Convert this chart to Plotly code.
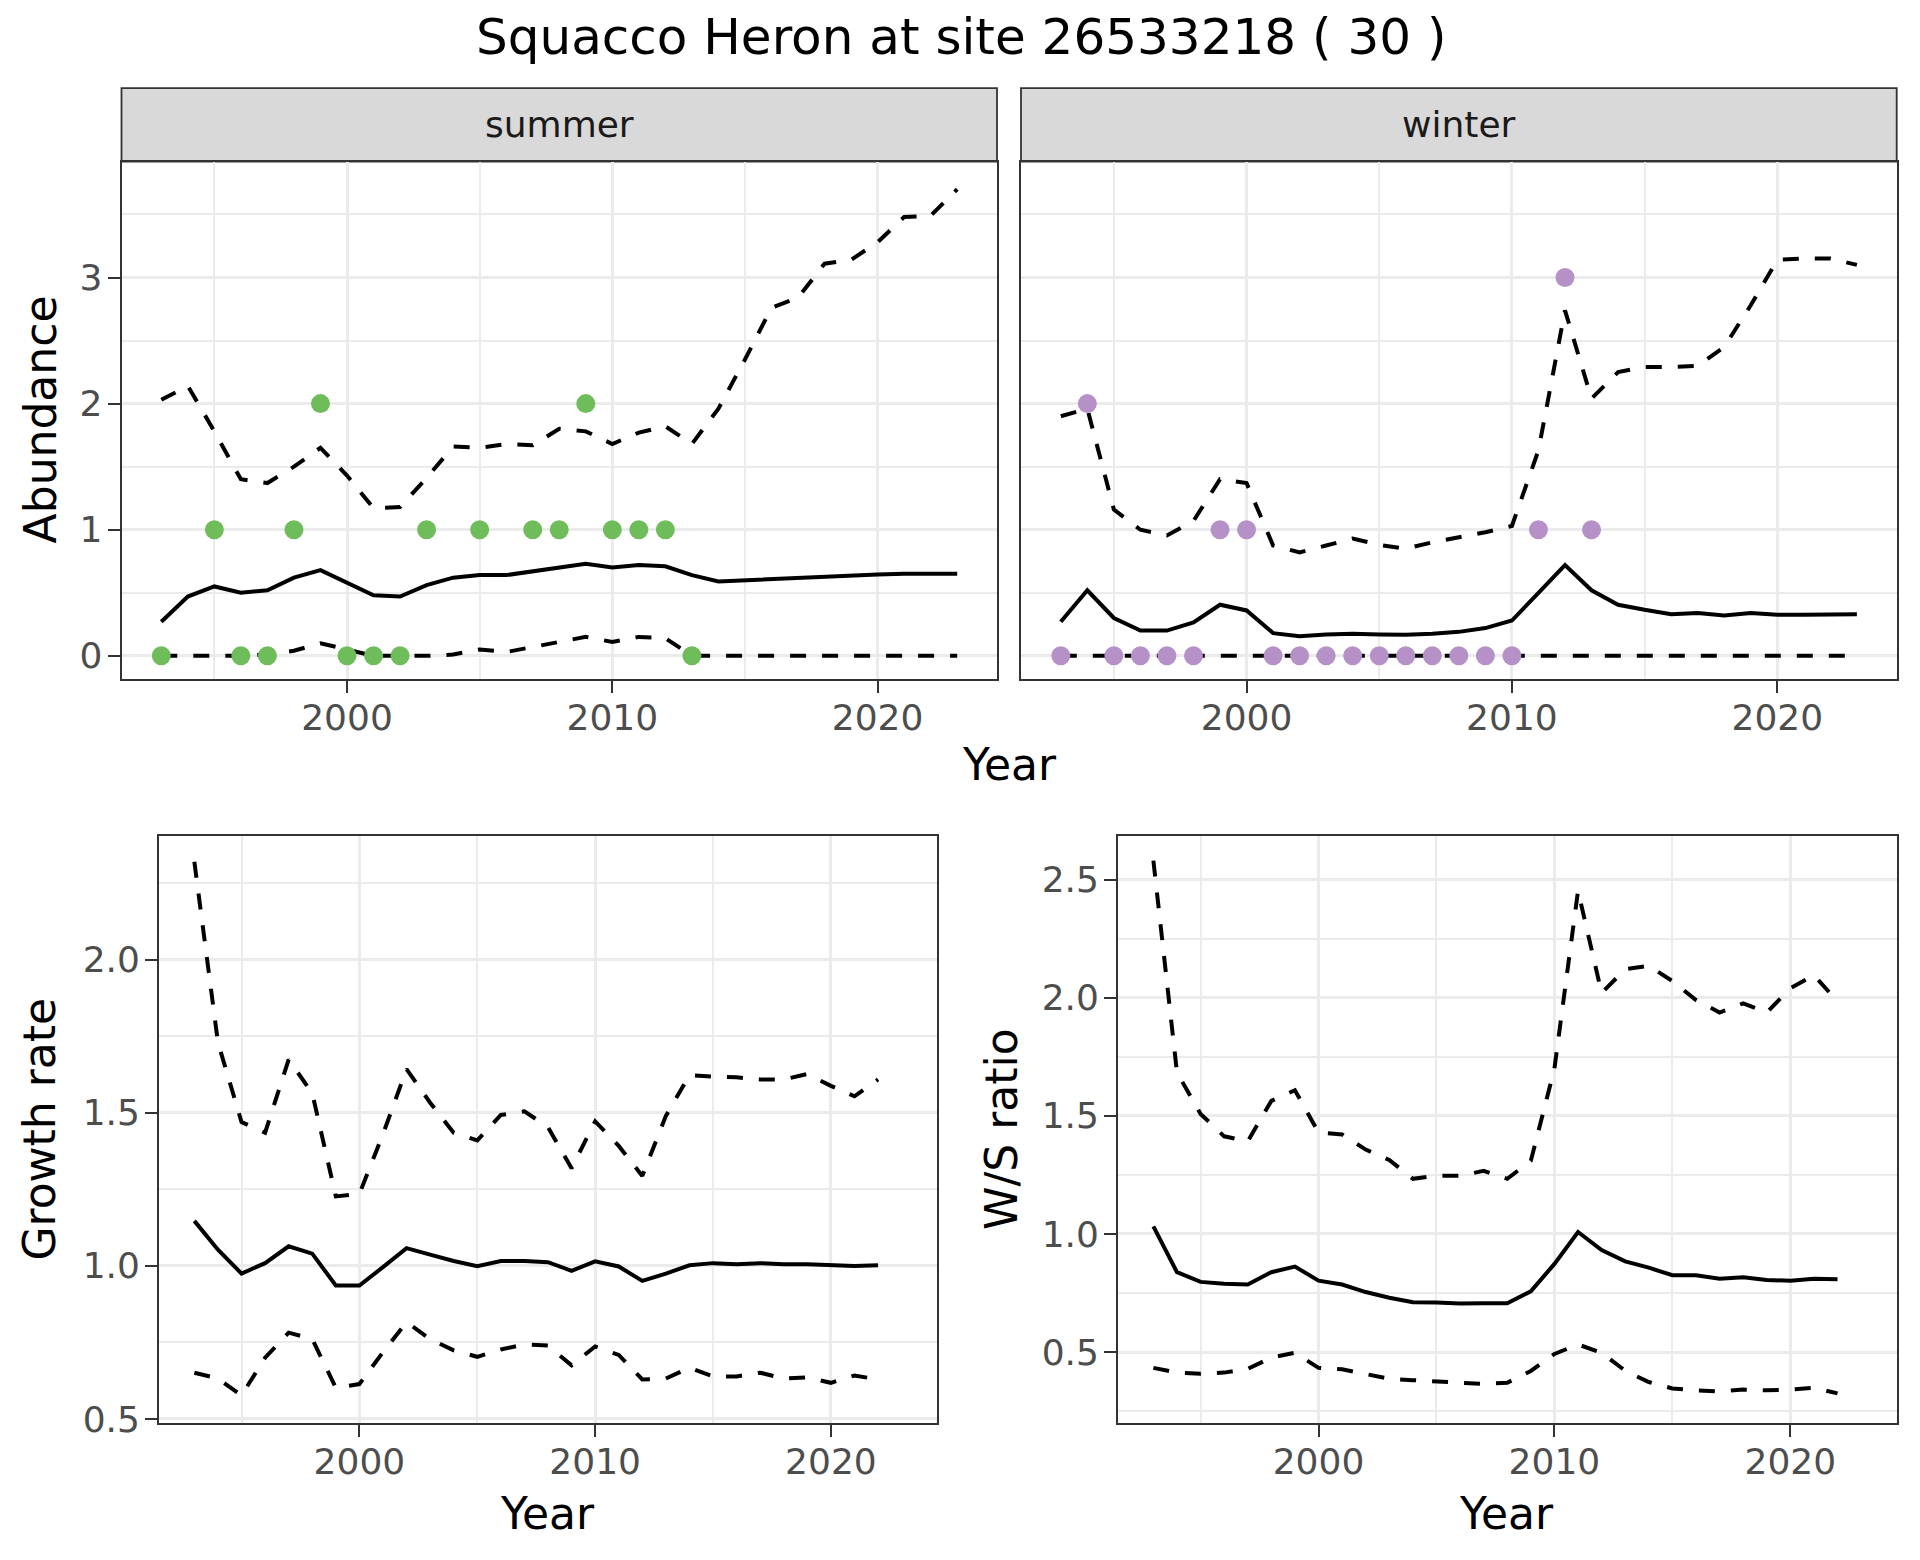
import plotly.graph_objects as go

years = list(range(1993, 2024))
years_ratio = list(range(1993, 2023))

summer_obs_years = [1993, 1995, 1996, 1997, 1998, 1999, 2000, 2001, 2002, 2003,
                    2005, 2007, 2008, 2009, 2010, 2011, 2012, 2013]
summer_obs = [0, 1, 0, 0, 1, 2, 0, 0, 0, 1, 1, 1, 1, 2, 1, 1, 1, 0]

winter_obs_years = list(range(1993, 2014))
winter_obs = [0, 2, 0, 0, 0, 0, 1, 1, 0, 0, 0, 0, 0, 0, 0, 0, 0, 0, 1, 3, 1]

summer_mean = [0.27, 0.47, 0.55, 0.50, 0.52, 0.62, 0.68, 0.58, 0.48, 0.47, 0.56,
               0.62, 0.64, 0.64, 0.67, 0.70, 0.73, 0.70, 0.72, 0.71, 0.64, 0.59,
               0.60, 0.61, 0.62, 0.63, 0.64, 0.645, 0.65, 0.65, 0.65]
summer_upper = [2.03, 2.14, 1.78, 1.40, 1.37, 1.50, 1.65, 1.43, 1.17, 1.18, 1.41,
                1.66, 1.65, 1.68, 1.67, 1.80, 1.78, 1.68, 1.77, 1.82, 1.68, 1.96,
                2.35, 2.76, 2.84, 3.11, 3.14, 3.28, 3.48, 3.49, 3.70]
summer_lower = [0, 0, 0, 0, 0.01, 0.04, 0.10, 0.05, 0, 0, 0, 0.01, 0.05, 0.03,
                0.07, 0.11, 0.15, 0.11, 0.15, 0.14, 0, 0, 0, 0, 0, 0, 0, 0, 0, 0, 0]

winter_mean = [0.27, 0.52, 0.30, 0.20, 0.20, 0.265, 0.405, 0.36, 0.18, 0.155, 0.17,
               0.175, 0.17, 0.167, 0.175, 0.19, 0.22, 0.28, 0.50, 0.72, 0.52, 0.405,
               0.365, 0.33, 0.34, 0.32, 0.34, 0.325, 0.325, 0.33, 0.33]
winter_upper = [1.90, 1.96, 1.16, 1.00, 0.955, 1.07, 1.40, 1.37, 0.875, 0.82, 0.875,
                0.93, 0.88, 0.85, 0.90, 0.94, 0.98, 1.03, 1.63, 2.74, 2.04, 2.25,
                2.29, 2.29, 2.30, 2.45, 2.78, 3.14, 3.15, 3.15, 3.10]
winter_lower = [0] * 31

growth_mean = [1.147, 1.053, 0.975, 1.009, 1.064, 1.04, 0.936, 0.936, 0.996, 1.058,
               1.037, 1.016, 0.999, 1.016, 1.016, 1.012, 0.984, 1.015, 0.998, 0.951,
               0.975, 1.002, 1.009, 1.005, 1.009, 1.005, 1.005, 1.002, 1.0, 1.002]
growth_upper = [2.32, 1.73, 1.47, 1.435, 1.674, 1.564, 1.227, 1.235, 1.43, 1.643,
                1.533, 1.435, 1.41, 1.493, 1.505, 1.453, 1.319, 1.472, 1.392, 1.294,
                1.49, 1.623, 1.618, 1.616, 1.609, 1.609, 1.627, 1.588, 1.554, 1.609]
growth_lower = [0.651, 0.632, 0.577, 0.70, 0.782, 0.761, 0.602, 0.614, 0.718, 0.816,
                0.761, 0.724, 0.703, 0.727, 0.743, 0.74, 0.675, 0.737, 0.709, 0.629,
                0.632, 0.667, 0.639, 0.639, 0.651, 0.632, 0.636, 0.618, 0.642, 0.629]

ws_mean = [1.032, 0.838, 0.797, 0.789, 0.786, 0.838, 0.862, 0.802, 0.786, 0.754,
           0.73, 0.711, 0.71, 0.705, 0.706, 0.706, 0.757, 0.873, 1.008, 0.932,
           0.884, 0.857, 0.825, 0.825, 0.81, 0.817, 0.805, 0.802, 0.81, 0.808]
ws_upper = [2.58, 1.683, 1.508, 1.413, 1.392, 1.563, 1.608, 1.429, 1.421, 1.357,
            1.313, 1.233, 1.246, 1.246, 1.267, 1.233, 1.31, 1.70, 2.452, 2.02,
            2.12, 2.135, 2.07, 1.99, 1.937, 1.976, 1.937, 2.04, 2.095, 1.984]
ws_lower = [0.433, 0.413, 0.408, 0.413, 0.429, 0.476, 0.497, 0.433, 0.427, 0.405,
            0.387, 0.381, 0.376, 0.37, 0.365, 0.37, 0.42, 0.492, 0.532, 0.497,
            0.421, 0.373, 0.346, 0.338, 0.333, 0.341, 0.338, 0.341, 0.349, 0.325]

x_ticks = [2000, 2010, 2020]
x_minor = [1995, 2005, 2015]

W, H = 1920, 1560
FONT = "DejaVu Sans"
GRID = "#EBEBEB"
BORDER = "#333333"
TICKC = "#4D4D4D"
LW = 4
DASH = "16px,16px"
GREEN = "#6FBC5B"
PURPLE = "#B591C7"
TICK_SIZE = 36
TITLE_SIZE = 44

fig = go.Figure()


def add_lines(x, mean, upper, lower, xa, ya):
    for vals, dash in ((upper, DASH), (mean, "solid"), (lower, DASH)):
        fig.add_trace(go.Scatter(x=x, y=vals, mode="lines", xaxis=xa, yaxis=ya,
                                 line=dict(color="black", width=LW, dash=dash),
                                 showlegend=False, hoverinfo="skip"))


add_lines(years, summer_mean, summer_upper, summer_lower, "x", "y")
fig.add_trace(go.Scatter(x=summer_obs_years, y=summer_obs, mode="markers",
                         xaxis="x", yaxis="y", showlegend=False,
                         marker=dict(color=GREEN, size=19, line=dict(width=0))))
add_lines(years, winter_mean, winter_upper, winter_lower, "x2", "y2")
fig.add_trace(go.Scatter(x=winter_obs_years, y=winter_obs, mode="markers",
                         xaxis="x2", yaxis="y2", showlegend=False,
                         marker=dict(color=PURPLE, size=19, line=dict(width=0))))
add_lines(years_ratio, growth_mean, growth_upper, growth_lower, "x3", "y3")
add_lines(years_ratio, ws_mean, ws_upper, ws_lower, "x4", "y4")


def xax(domain, anchor):
    return dict(domain=domain, anchor=anchor, range=[1991.5, 2024.5],
                tickmode="array", tickvals=x_ticks, ticktext=[str(v) for v in x_ticks],
                showgrid=True, gridcolor=GRID, gridwidth=3, zeroline=False,
                minor=dict(tickmode="array", tickvals=x_minor, showgrid=True,
                           gridcolor=GRID, gridwidth=1.5, ticks=""),
                showline=True, mirror=True, linecolor=BORDER, linewidth=1.8,
                ticks="outside", ticklen=12, tickwidth=1.8, tickcolor=BORDER,
                ticklabelstandoff=-6,
                tickfont=dict(family=FONT, size=TICK_SIZE, color=TICKC))


def yax(domain, anchor, rng, major, minor, fmt, labels=True):
    return dict(domain=domain, anchor=anchor, range=rng,
                tickmode="array", tickvals=major, ticktext=[fmt % v for v in major],
                showgrid=True, gridcolor=GRID, gridwidth=3, zeroline=False,
                minor=dict(tickmode="array", tickvals=minor, showgrid=True,
                           gridcolor=GRID, gridwidth=1.5, ticks=""),
                showline=True, mirror=True, linecolor=BORDER, linewidth=1.8,
                ticks="outside" if labels else "", ticklen=12, tickwidth=1.8,
                tickcolor=BORDER, showticklabels=labels, ticklabelstandoff=-2,
                tickfont=dict(family=FONT, size=TICK_SIZE, color=TICKC))


def px_x(p):
    return p / W


def px_y(p):
    return 1 - p / H


STRIP_TOP, TOP_Y0, TOP_Y1 = 89, 163.3, 686.5
BOT_Y0, BOT_Y1 = 845, 1438.6
top_dom = [px_y(TOP_Y1), px_y(TOP_Y0)]
bot_dom = [px_y(BOT_Y1), px_y(BOT_Y0)]

fig.update_layout(
    width=W, height=H,
    margin=dict(l=0, r=0, t=0, b=0),
    paper_bgcolor="white", plot_bgcolor="white",
    font=dict(family=FONT, color="black"),
    xaxis=xax([px_x(121.5), px_x(997)], "y"),
    yaxis=yax(top_dom, "x", [-0.184, 3.92], [0, 1, 2, 3], [0.5, 1.5, 2.5, 3.5], "%d"),
    xaxis2=xax([px_x(1021), px_x(1896.7)], "y2"),
    yaxis2=yax(top_dom, "x2", [-0.184, 3.92], [0, 1, 2, 3], [0.5, 1.5, 2.5, 3.5], "%d", labels=False),
    xaxis3=xax([px_x(159), px_x(937)], "y3"),
    yaxis3=yax(bot_dom, "x3", [0.487, 2.405], [0.5, 1.0, 1.5, 2.0], [0.75, 1.25, 1.75, 2.25], "%.1f"),
    xaxis4=xax([px_x(1118), px_x(1896.5)], "y4"),
    yaxis4=yax(bot_dom, "x4", [0.2, 2.685], [0.5, 1.0, 1.5, 2.0, 2.5], [0.25, 0.75, 1.25, 1.75, 2.25], "%.1f"),
)

shapes = []
annotations = []
for (x0, x1, label) in ((121.5, 997, "summer"), (1021, 1896.7, "winter")):
    shapes.append(dict(type="rect", xref="paper", yref="paper",
                       x0=px_x(x0), x1=px_x(x1), y0=px_y(TOP_Y0), y1=px_y(STRIP_TOP),
                       fillcolor="#D9D9D9", line=dict(color=BORDER, width=1.8), layer="below"))
    annotations.append(dict(text=label, xref="paper", yref="paper",
                            x=px_x((x0 + x1) / 2), y=px_y(126), showarrow=False,
                            xanchor="center", yanchor="middle",
                            font=dict(family=FONT, size=TICK_SIZE, color="#1A1A1A")))

annotations += [
    dict(text="Squacco Heron at site 26533218 ( 30 )", xref="paper", yref="paper",
         x=px_x(961), y=px_y(37), showarrow=False, xanchor="center", yanchor="middle",
         font=dict(family=FONT, size=50, color="black")),
    dict(text="Year", xref="paper", yref="paper", x=px_x(1009), y=px_y(773),
         showarrow=False, xanchor="center", yanchor="middle",
         font=dict(family=FONT, size=TITLE_SIZE, color="black")),
    dict(text="Year", xref="paper", yref="paper", x=px_x(547), y=px_y(1530),
         showarrow=False, xanchor="center", yanchor="middle",
         font=dict(family=FONT, size=TITLE_SIZE, color="black")),
    dict(text="Year", xref="paper", yref="paper", x=px_x(1506), y=px_y(1530),
         showarrow=False, xanchor="center", yanchor="middle",
         font=dict(family=FONT, size=TITLE_SIZE, color="black")),
    dict(text="Abundance", xref="paper", yref="paper", x=px_x(40), y=px_y(424),
         showarrow=False, xanchor="center", yanchor="middle", textangle=-90,
         font=dict(family=FONT, size=TITLE_SIZE, color="black")),
    dict(text="Growth rate", xref="paper", yref="paper", x=px_x(40), y=px_y(1142),
         showarrow=False, xanchor="center", yanchor="middle", textangle=-90,
         font=dict(family=FONT, size=TITLE_SIZE, color="black")),
    dict(text="W/S ratio", xref="paper", yref="paper", x=px_x(1001.5), y=px_y(1142),
         showarrow=False, xanchor="center", yanchor="middle", textangle=-90,
         font=dict(family=FONT, size=TITLE_SIZE, color="black")),
]

fig.update_layout(shapes=shapes, annotations=annotations)
fig.write_html("out.html", config={"displayModeBar": False},
               post_script="document.body.style.margin='0px';")
